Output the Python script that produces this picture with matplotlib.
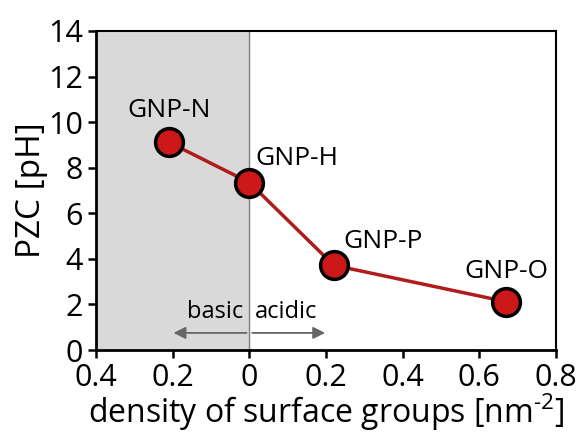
import numpy as np
import matplotlib
matplotlib.use('Agg')
import matplotlib.pyplot as plt

plt.rcParams['font.family'] = ['Open Sans', 'DejaVu Sans']
plt.rcParams['mathtext.fontset'] = 'custom'
plt.rcParams['mathtext.rm'] = 'Open Sans'

# dati
samples = ['GNP-N', 'GNP-H', 'GNP-P', 'GNP-O']
density = [-0.21, 0.0, 0.22, 0.67]
pzc = [9.12, 7.35, 3.72, 2.12]
x_ticks = [-0.4, -0.2, 0, 0.2, 0.4, 0.6, 0.8]
x_tick_labels = ['0.4', '0.2', '0', '0.2', '0.4', '0.6', '0.8']
y_ticks = [0, 2, 4, 6, 8, 10, 12, 14]

fig = plt.figure(figsize=(5.85, 4.33), dpi=100)
ax = fig.add_axes([96 / 585, 83 / 433, 460 / 585, 319 / 433])

# zona basica evidenziata
ax.axvspan(-0.4, 0, color='#d9d9d9', zorder=0)
ax.axvline(0, color='#808080', lw=1, zorder=1)

ax.plot(density, pzc, color='#b01c1c', lw=2.5, zorder=2,
        marker='o', markersize=20, markerfacecolor='#cc1818',
        markeredgecolor='black', markeredgewidth=2.5)

# etichette dei campioni
label_pos = [(-0.21, 10.5, 'center'), (0.015, 8.4, 'left'),
             (0.245, 4.75, 'left'), (0.67, 3.45, 'center')]
for name, (lx, ly, ha) in zip(samples, label_pos):
    ax.text(lx, ly, name, fontsize=19, ha=ha, va='center')

# frecce basic / acidic
ax.annotate('', xy=(-0.205, 0.75), xytext=(0, 0.75),
            arrowprops=dict(arrowstyle='-|>', color='#666666', lw=1.3, mutation_scale=18))
ax.annotate('', xy=(0.205, 0.75), xytext=(0, 0.75),
            arrowprops=dict(arrowstyle='-|>', color='#666666', lw=1.3, mutation_scale=18))
ax.text(-0.015, 1.65, 'basic', fontsize=17, ha='right', va='center')
ax.text(0.015, 1.65, 'acidic', fontsize=17, ha='left', va='center')

ax.set_xlim(-0.4, 0.8)
ax.set_ylim(0, 14)
ax.set_xticks(x_ticks)
ax.set_xticklabels(x_tick_labels)
ax.set_yticks(y_ticks)
ax.tick_params(labelsize=22, direction='out', length=6, width=1.8)
ax.tick_params(axis='x', pad=3)
ax.tick_params(axis='y', pad=3.5)
ax.tick_params(top=False, right=False)

for side in ['left', 'bottom']:
    ax.spines[side].set_linewidth(2)
for side in ['top', 'right']:
    ax.spines[side].set_linewidth(1.5)

ax.set_xlabel('density of surface groups [nm$^{\\text{-2}}$]', fontsize=23, labelpad=-1)
ax.set_ylabel('PZC [pH]', fontsize=24, labelpad=0)

fig.savefig('out.png', dpi=100)
